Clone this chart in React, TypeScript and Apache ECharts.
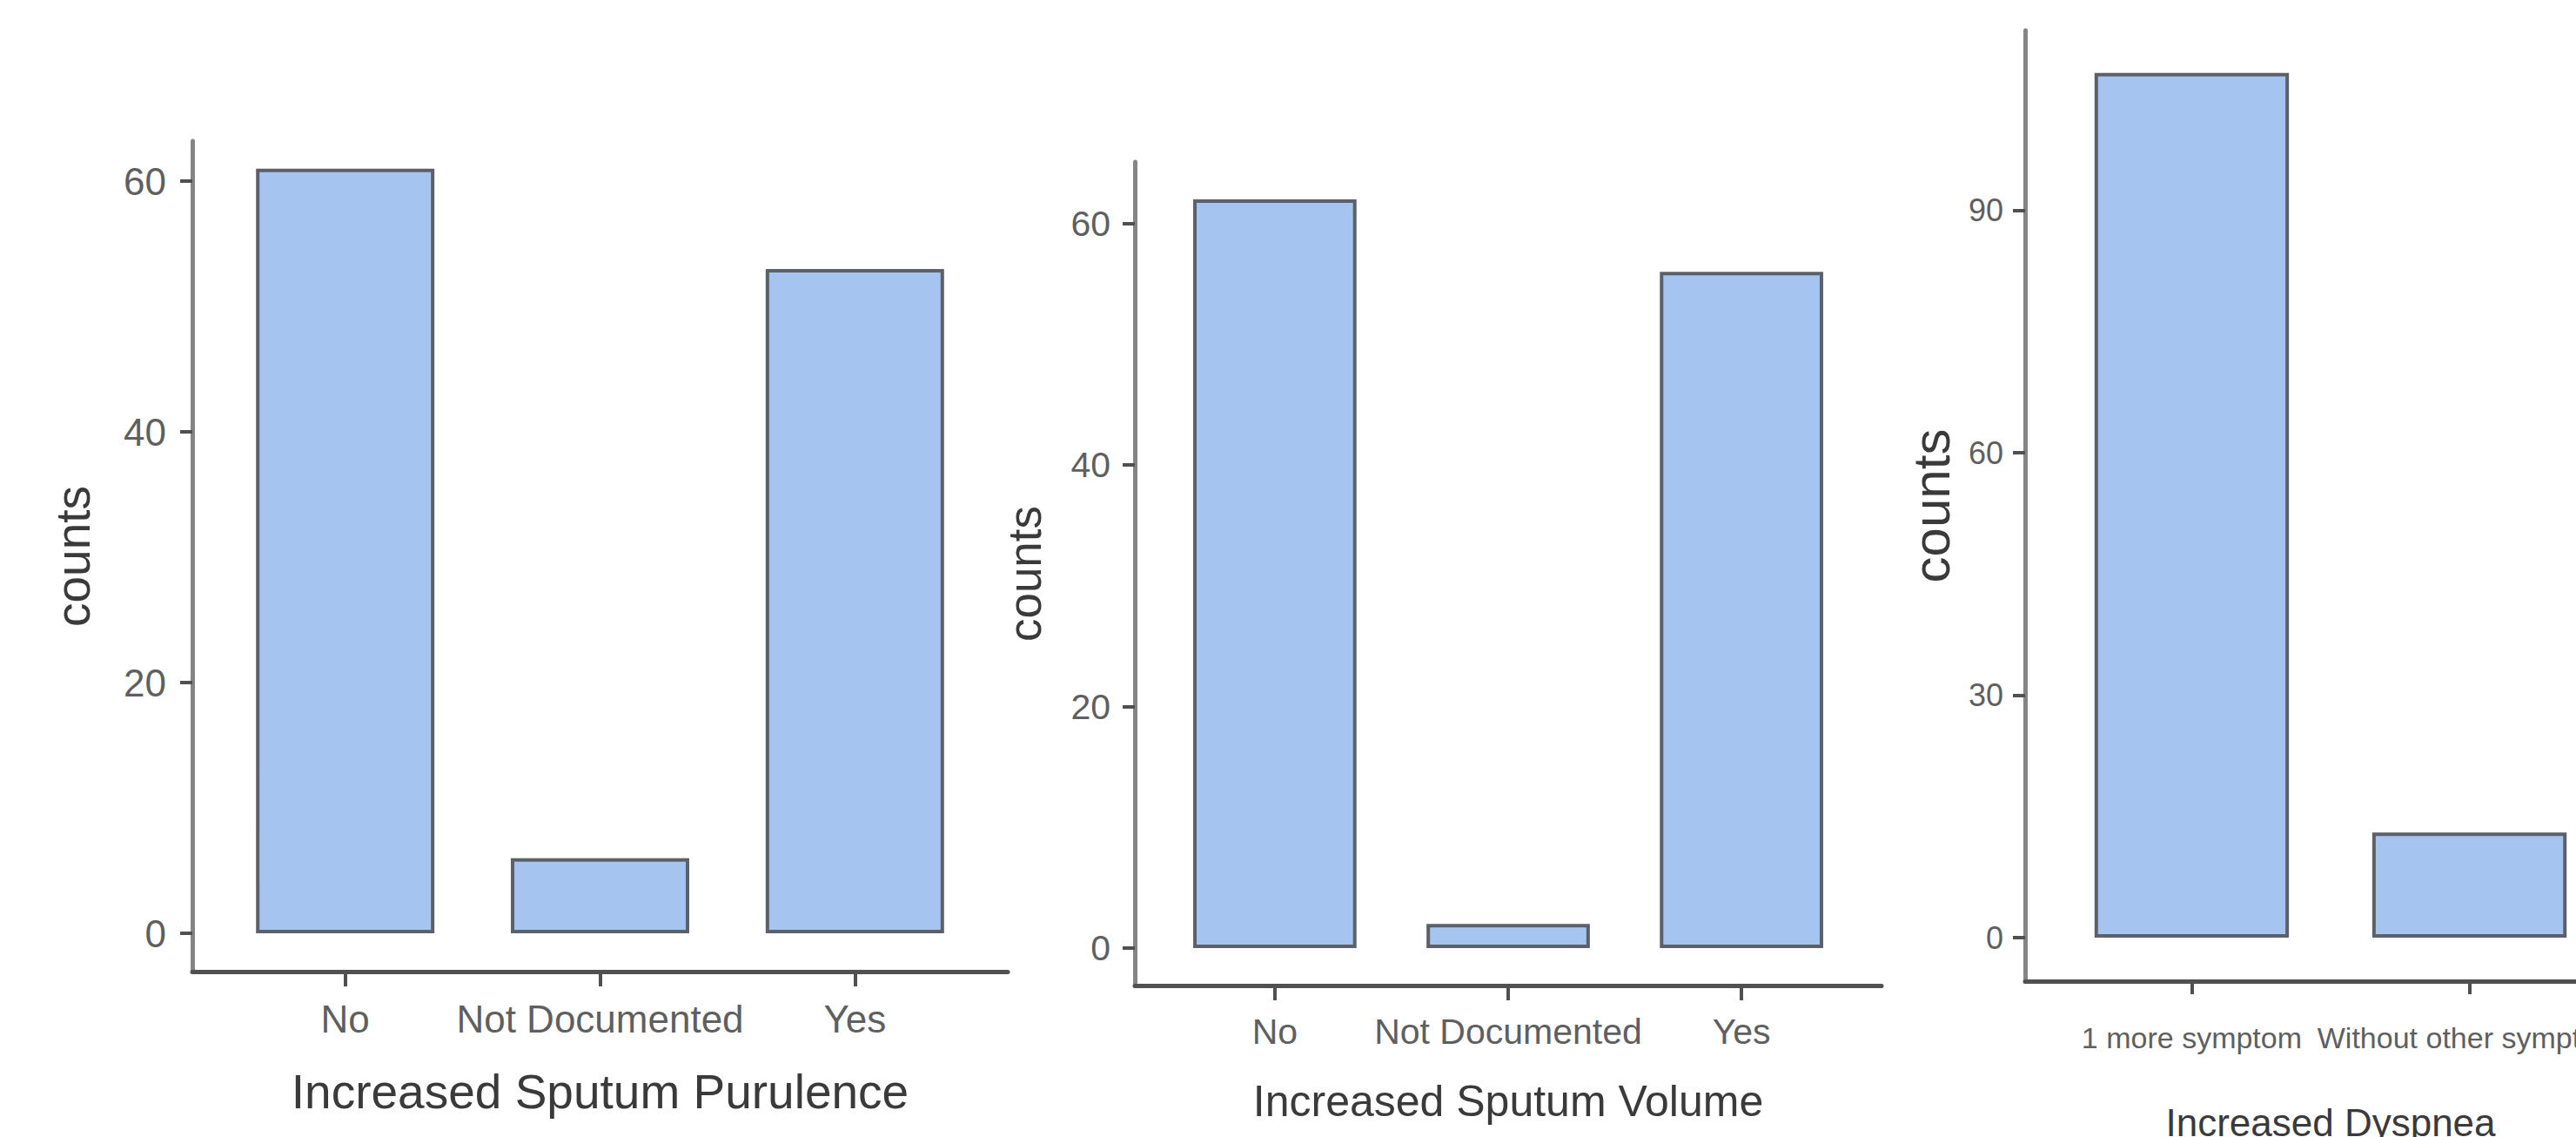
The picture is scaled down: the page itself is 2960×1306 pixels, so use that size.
import React, { useEffect, useRef } from "react";
import * as echarts from "echarts";

// ---- data ----
const purulenceCategories = ["No", "Not Documented", "Yes"];
const purulenceCounts = [61, 6, 53];
const purulenceTicks = [0, 20, 40, 60];

const volumeCategories = ["No", "Not Documented", "Yes"];
const volumeCounts = [62, 2, 56];
const volumeTicks = [0, 20, 40, 60];

const dyspneaCategories = ["1 more symptom", "Without other symptom"];
const dyspneaCounts = [107, 13];
const dyspneaTicks = [0, 30, 60, 90];

const xTitles = ["Increased Sputum Purulence", "Increased Sputum Volume", "Increased Dyspnea"];
const yTitle = "counts";

const SANS = "'Liberation Sans', Arial, sans-serif";

const BAR_FILL = "#a5c4f0";
const BAR_BORDER = "#5c6068";
const TICK_TEXT = "#5f5f5f";
const TITLE_TEXT = "#3a3a3a";

type PanelCfg = {
  cats: string[];
  counts: number[];
  ticks: number[];
  title: string;
  yMin: number;
  yMax: number;
  grid: { left: number; top: number; width: number; height: number };
  xTickFont: number;
  yTickFont: number;
  xLabelMargin: number;
  yLabelMargin: number;
  titleFont: number;
  xNameGap: number;
  countsFont: number;
  yNameGap: number;
  xTickLen: number;
  yTickLen: number;
};

const panels: PanelCfg[] = [
  {
    cats: purulenceCategories,
    counts: purulenceCounts,
    ticks: purulenceTicks,
    title: xTitles[0],
    yMin: -3.05,
    yMax: 63.2,
    grid: { left: 221, top: 162, width: 937, height: 954 },
    xTickFont: 44,
    yTickFont: 44,
    xLabelMargin: 32,
    yLabelMargin: 30,
    titleFont: 55,
    xNameGap: 110,
    countsFont: 55,
    yNameGap: 110,
    xTickLen: 17,
    yTickLen: 14,
  },
  {
    cats: volumeCategories,
    counts: volumeCounts,
    ticks: volumeTicks,
    title: xTitles[1],
    yMin: -3.1,
    yMax: 65.1,
    grid: { left: 1304, top: 186, width: 858, height: 946 },
    xTickFont: 41,
    yTickFont: 41,
    xLabelMargin: 32,
    yLabelMargin: 28,
    titleFont: 50,
    xNameGap: 108,
    countsFont: 53,
    yNameGap: 100,
    xTickLen: 17,
    yTickLen: 14,
  },
  {
    cats: dyspneaCategories,
    counts: dyspneaCounts,
    ticks: dyspneaTicks,
    title: xTitles[2],
    yMin: -5.38,
    yMax: 112.25,
    grid: { left: 2327, top: 35, width: 702, height: 1092 },
    xTickFont: 34,
    yTickFont: 36,
    xLabelMargin: 48,
    yLabelMargin: 25,
    titleFont: 44,
    xNameGap: 140,
    countsFont: 60,
    yNameGap: 78,
    xTickLen: 15,
    yTickLen: 14,
  },
];

function buildOption() {
  const grid: any[] = [];
  const xAxis: any[] = [];
  const yAxis: any[] = [];
  const series: any[] = [];

  panels.forEach((p, i) => {
    const idx = p.cats.map((_, j) => j);
    grid.push({
      ...p.grid,
      containLabel: false,
      outerBoundsMode: "none",
    });
    xAxis.push({
      type: "value",
      gridIndex: i,
      min: -0.6,
      max: p.cats.length - 0.4,
      splitLine: { show: false },
      axisLine: { show: true, onZero: false, lineStyle: { color: "#505050", width: 5 } },
      axisTick: {
        show: true,
        customValues: idx,
        length: p.xTickLen,
        lineStyle: { color: "#505050", width: 4 },
      },
      axisLabel: {
        show: true,
        customValues: idx,
        formatter: (v: number) => p.cats[Math.round(v)] ?? "",
        fontSize: p.xTickFont,
        fontFamily: SANS,
        color: TICK_TEXT,
        margin: p.xLabelMargin,
        hideOverlap: false,
      },
      name: p.title,
      nameLocation: "middle",
      nameGap: p.xNameGap,
      nameTextStyle: { fontSize: p.titleFont, fontFamily: SANS, color: TITLE_TEXT },
    });
    yAxis.push({
      type: "value",
      gridIndex: i,
      min: p.yMin,
      max: p.yMax,
      splitLine: { show: false },
      axisLine: { show: true, onZero: false, lineStyle: { color: "#858585", width: 5 } },
      axisTick: {
        show: true,
        customValues: p.ticks,
        length: p.yTickLen,
        lineStyle: { color: "#505050", width: 4 },
      },
      axisLabel: {
        show: true,
        customValues: p.ticks,
        fontSize: p.yTickFont,
        fontFamily: SANS,
        color: TICK_TEXT,
        margin: p.yLabelMargin,
      },
      name: yTitle,
      nameLocation: "middle",
      nameGap: p.yNameGap,
      nameTextStyle: { fontSize: p.countsFont, fontFamily: SANS, color: TITLE_TEXT },
    });
    series.push({
      type: "bar",
      xAxisIndex: i,
      yAxisIndex: i,
      data: p.counts.map((c, j) => [j, c]),
      barWidth: "70%",
      silent: true,
      itemStyle: { color: BAR_FILL, borderColor: BAR_BORDER, borderWidth: 4 },
    });
  });

  return {
    animation: false,
    backgroundColor: "#ffffff",
    grid,
    xAxis,
    yAxis,
    series,
  };
}

export default function App() {
  const ref = useRef<HTMLDivElement>(null);
  useEffect(() => {
    if (!ref.current) return;
    const chart = echarts.init(ref.current, null, { renderer: "svg" });
    chart.setOption(buildOption() as any);
    return () => chart.dispose();
  }, []);
  return (
    <div
      ref={ref}
      style={{ position: "fixed", left: 0, top: 0, width: 2960, height: 1306, background: "#fff" }}
    />
  );
}
